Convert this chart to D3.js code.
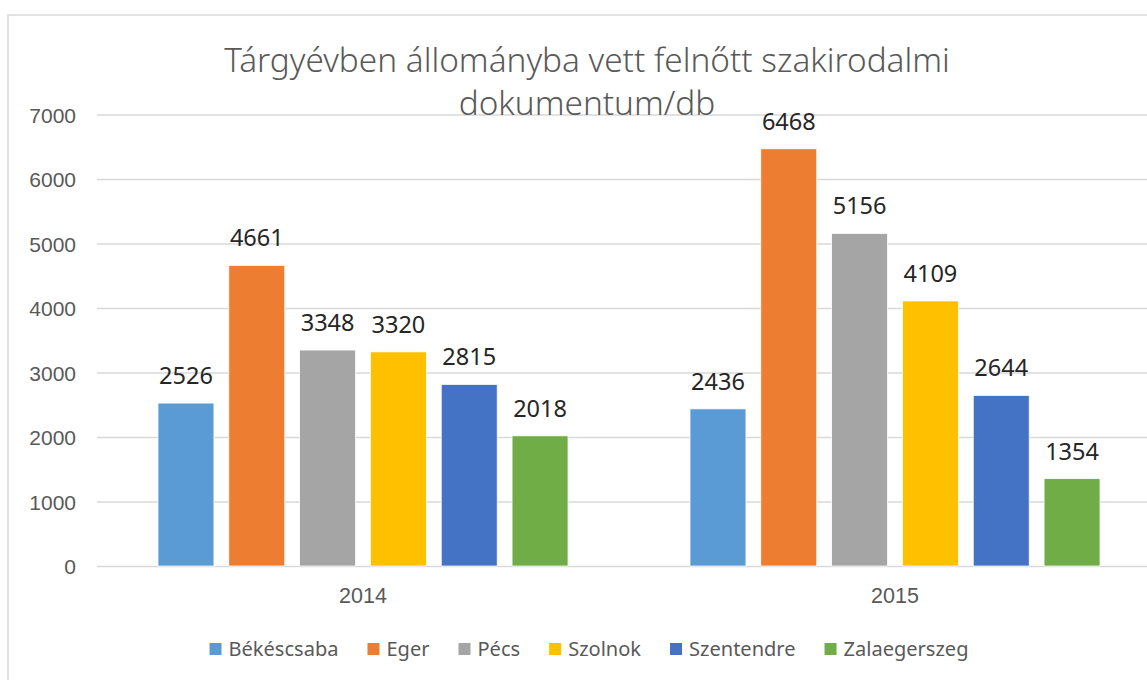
<!DOCTYPE html>
<html>
<head>
<meta charset="utf-8">
<script src="https://cdn.jsdelivr.net/npm/d3@7"></script>
<style>
  body { margin: 0; background: #fff; }
  svg { display: block; font-family: "Noto Sans", sans-serif; }
</style>
</head>
<body>
<div id="container"></div>
<script>
/* DATA */
const years = ["2014", "2015"];
const cities = ["Békéscsaba", "Eger", "Pécs", "Szolnok", "Szentendre", "Zalaegerszeg"];
const values2014 = [2526, 4661, 3348, 3320, 2815, 2018];
const values2015 = [2436, 6468, 5156, 4109, 2644, 1354];
const yTicks = [0, 1000, 2000, 3000, 4000, 5000, 6000, 7000];
const colors = ["#5B9BD5", "#ED7D31", "#A5A5A5", "#FFC000", "#4472C4", "#70AD47"];
const titleLines = ["Tárgyévben állományba vett felnőtt szakirodalmi", "dokumentum/db"];

const width = 1147, height = 680;
const margin = {top: 114.5, bottom: 114, left: 97, right: -14};

const rows = years.map((y, i) => ({
  year: y,
  values: cities.map((c, j) => ({city: c, value: (i === 0 ? values2014 : values2015)[j]}))
}));

/* SCALES */
const x0 = d3.scaleBand()
  .domain(years)
  .range([margin.left, width - margin.right]);

const inner = 410;
const x1 = d3.scaleBand()
  .domain(cities)
  .range([(x0.bandwidth() - inner) / 2, (x0.bandwidth() + inner) / 2])
  .paddingInner(0.21);

const y = d3.scaleLinear()
  .domain([0, 7000])
  .range([height - margin.bottom, margin.top]);

const color = d3.scaleOrdinal().domain(cities).range(colors);

/* SVG */
const svg = d3.select("#container").append("svg")
  .attr("width", width)
  .attr("height", height);

// chart frame
svg.append("rect")
  .attr("x", 8).attr("y", 15)
  .attr("width", 1200).attr("height", 700)
  .attr("fill", "#fff")
  .attr("stroke", "#d9d9d9")
  .attr("stroke-width", 1.5);

// y axis + gridlines
const yAxis = d3.axisLeft(y)
  .tickValues(yTicks)
  .tickSize(-(width - margin.right - margin.left))
  .tickPadding(21)
  .tickFormat(d3.format("d"));

const gy = svg.append("g")
  .attr("transform", `translate(${margin.left},0)`)
  .call(yAxis);
gy.select(".domain").remove();
gy.selectAll(".tick line").attr("stroke", "#d9d9d9").attr("stroke-width", 1.5);
gy.selectAll(".tick text")
  .attr("fill", "#595959")
  .style("font-size", "21px")
  .attr("dy", "0.36em");

// x axis
const xAxis = d3.axisBottom(x0).tickSize(0).tickPadding(22);
const gx = svg.append("g")
  .attr("transform", `translate(0,${y(0)})`)
  .call(xAxis);
gx.select(".domain").remove();
gx.selectAll(".tick text")
  .attr("fill", "#595959")
  .style("font-size", "21.5px");

// bars
const groups = svg.selectAll(".group")
  .data(rows)
  .join("g")
  .attr("class", "group")
  .attr("transform", d => `translate(${x0(d.year)},0)`);

groups.selectAll("rect")
  .data(d => d.values)
  .join("rect")
  .attr("x", d => x1(d.city))
  .attr("y", d => y(d.value))
  .attr("width", x1.bandwidth())
  .attr("height", d => y(0) - y(d.value))
  .attr("fill", d => color(d.city))
  .attr("stroke", "#fff")
  .attr("stroke-width", 0.75);

groups.selectAll(".val")
  .data(d => d.values)
  .join("text")
  .attr("class", "val")
  .attr("x", d => x1(d.city) + x1.bandwidth() / 2)
  .attr("y", d => y(d.value) - 19)
  .attr("text-anchor", "middle")
  .attr("fill", "#262626")
  .style("font-size", "23.5px")
  .text(d => d.value);

// title
const title = svg.append("g");
title.selectAll("text")
  .data(titleLines)
  .join("text")
  .attr("x", 587)
  .attr("y", (d, i) => 72 + i * 43)
  .attr("text-anchor", "middle")
  .attr("fill", "#595959")
  .style("font-size", "32px")
  .style("font-weight", 300)
  .text(d => d);
// fit first line to the reference width
const t0 = title.select("text").node();
const fs = 32 * 726 / t0.getComputedTextLength();
title.selectAll("text").style("font-size", fs + "px");

// legend
const legend = svg.append("g").attr("transform", "translate(0,649)");
const items = legend.selectAll("g")
  .data(cities)
  .join("g");
items.append("rect")
  .attr("width", 12).attr("height", 12)
  .attr("y", -6)
  .attr("fill", d => color(d));
items.append("text")
  .attr("x", 19)
  .attr("dy", "0.35em")
  .attr("fill", "#595959")
  .style("font-size", "19px")
  .text(d => d);

// fit legend text size so "Békéscsaba" is about 110px wide
const firstW = items.select("text").node().getComputedTextLength();
const lfs = 19 * 110 / firstW;
items.select("text").style("font-size", lfs + "px");

let pos = 0;
const offsets = [];
items.each(function() {
  offsets.push(pos);
  pos += 19 + d3.select(this).select("text").node().getComputedTextLength() + 29;
});
const total = pos - 29;
const start = 589 - total / 2;
items.attr("transform", (d, i) => `translate(${start + offsets[i]},0)`);
</script>
</body>
</html>
